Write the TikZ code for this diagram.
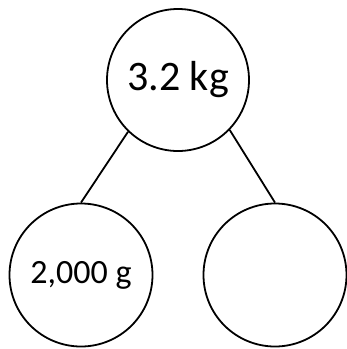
\documentclass[tikz,border=0pt]{standalone}
\usepackage{fontspec}
\setmainfont{Carlito}
\usepackage{tikz}
\begin{document}
\begin{tikzpicture}[x=1pt,y=1pt,line width=1.8pt]
        \useasboundingbox (0,0) rectangle (347,-349);
        \tikzset{mass/.style={circle,draw,inner sep=0pt,minimum size=142pt}}
        \node[mass,font=\fontsize{42}{50}\selectfont] (whole) at (178,-80){3.2 kg};
        \node[mass,minimum size=143pt,font=\fontsize{34}{40}\selectfont] (partA) at (81,-275){2,000 g};
        \node[mass,minimum size=143pt] (partB) at (275,-275){};
        \draw (whole.-134)--(partA.north);
        \draw (whole.-44)--(partB.north);
    \end{tikzpicture}
\end{document}
